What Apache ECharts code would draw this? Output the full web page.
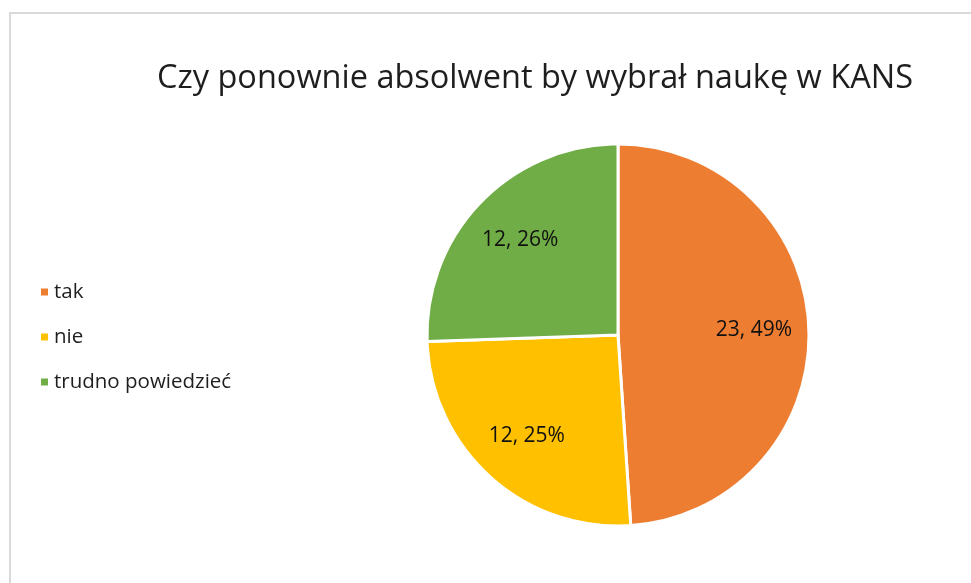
<!DOCTYPE html>
<html>
<head>
<meta charset="utf-8">
<script src="https://cdn.jsdelivr.net/npm/echarts@6/dist/echarts.min.js"></script>
<style>
	body{margin:0;background:#fff;}
	.frame{position:absolute;left:9px;top:12px;width:980px;height:600px;border:2px solid #d9d9d9;box-sizing:border-box;}
	#chart{position:absolute;left:0;top:0;width:971px;height:583px;}
</style>
</head>
<body>
<div class="frame"></div>
<div id="chart"></div>
<script>
	// dane z wykresu
	const categories = ['tak', 'nie', 'trudno powiedzieć'];
	const counts = [23, 12, 12];
	const percentLabels = ['49%', '25%', '26%'];
	const colors = ['#ED7D31', '#FFC000', '#70AD47'];

	const pieData = categories.map((name, i) => ({ name: name, value: counts[i] }));
	const font = '"Open Sans", "Noto Sans", sans-serif';

	let chart = echarts.init(document.getElementById('chart'));
	let option = {
		color: colors,
		title: {
			text: 'Czy ponownie absolwent by wybrał naukę w KANS',
			left: 530,
			textAlign: 'center',
			top: 57,
			textStyle: {
				fontFamily: font,
				fontSize: 32.5,
				fontWeight: 'normal',
				color: '#1e1e1e'
			}
		},
		legend: {
			orient: 'vertical',
			left: 34,
			top: 276,
			icon: 'rect',
			itemWidth: 9,
			itemHeight: 9,
			itemGap: 23,
			data: categories,
			textStyle: {
				fontFamily: font,
				fontSize: 20.5,
				lineHeight: 22,
				color: '#1e1e1e'
			}
		},
		series: [
			{
				name: 'wykres',
				type: 'pie',
				center: [618, 335],
				radius: 191,
				startAngle: 90,
				clockwise: true,
				silent: true,
				itemStyle: { borderColor: '#fff', borderWidth: 3 },
				label: { show: false },
				labelLine: { show: false },
				data: pieData
			},
			{
				// przezroczysty pie tylko do etykiet
				name: 'etykiety',
				type: 'pie',
				center: [618, 335],
				radius: 266,
				startAngle: 90,
				clockwise: true,
				silent: true,
				itemStyle: { color: 'rgba(0,0,0,0)' },
				label: {
					show: true,
					position: 'inside',
					fontFamily: font,
					fontSize: 21,
					color: '#111',
					formatter: (p) => p.value + ', ' + percentLabels[p.dataIndex]
				},
				labelLine: { show: false },
				data: pieData
			}
		]
	};
	chart.setOption(option);
</script>
</body>
</html>
